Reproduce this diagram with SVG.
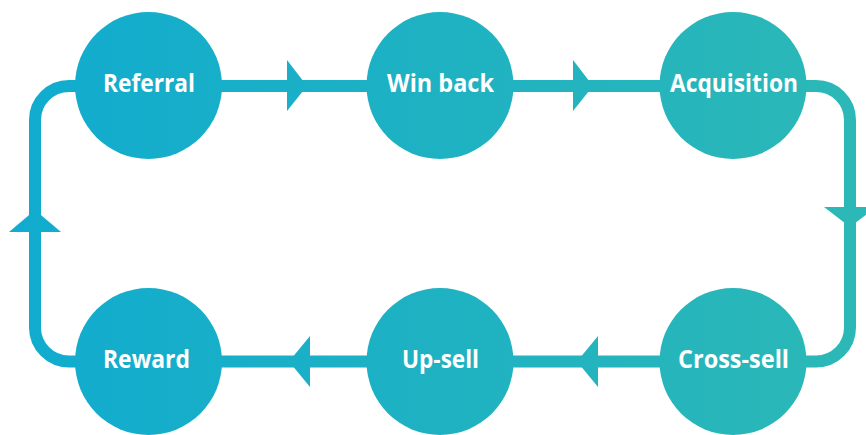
<svg xmlns="http://www.w3.org/2000/svg" width="866" height="435" viewBox="0 0 866 435">
  <defs>
    <linearGradient id="g" gradientUnits="userSpaceOnUse" x1="0" y1="0" x2="866" y2="0">
      <stop offset="0" stop-color="#10ABCF"/>
      <stop offset="1" stop-color="#2CB8B6"/>
    </linearGradient>
  </defs>
  <style>
    .line { fill: none; stroke: url(#g); stroke-width: 12; }
    .head { fill: url(#g); }
    .node { fill: url(#g); }
    .label { fill: #ffffff; font-family: "Open Sans", "Noto Sans", sans-serif; font-weight: bold; font-size: 25px; text-anchor: middle; }
  </style>
  <rect width="866" height="435" fill="#ffffff"/>
  <g id="connectors">
    <path class="line" d="M148.5 86 H733"/>
    <path class="line" d="M733 86 H816 A34 34 0 0 1 850 120 V327.5 A34 34 0 0 1 816 361.5 H733"/>
    <path class="line" d="M733 361.5 H148.5"/>
    <path class="line" d="M148.5 361.5 H69 A34 34 0 0 1 35 327.5 V120 A34 34 0 0 1 69 86 H148.5"/>
    <polygon class="head" points="287,60 307,86 287,111"/>
    <polygon class="head" points="573,60 593,86 573,111"/>
    <polygon class="head" points="824,207 876,207 850,227"/>
    <polygon class="head" points="598,336 577,361.5 598,387"/>
    <polygon class="head" points="310,336 289,361.5 310,387"/>
    <polygon class="head" points="9,232 61,232 35,210"/>
  </g>
  <g id="referral">
    <circle class="node" cx="148.5" cy="85.5" r="73.5"/>
    <text class="label" x="149" y="92" textLength="92" lengthAdjust="spacingAndGlyphs">Referral</text>
  </g>
  <g id="win-back">
    <circle class="node" cx="440" cy="85.5" r="73.5"/>
    <text class="label" x="440.5" y="92" textLength="107" lengthAdjust="spacingAndGlyphs">Win back</text>
  </g>
  <g id="acquisition">
    <circle class="node" cx="733" cy="85.5" r="73.5"/>
    <text class="label" x="734" y="92" textLength="128" lengthAdjust="spacingAndGlyphs">Acquisition</text>
  </g>
  <g id="cross-sell">
    <circle class="node" cx="733" cy="361.5" r="73.5"/>
    <text class="label" x="733.5" y="368" textLength="111" lengthAdjust="spacingAndGlyphs">Cross-sell</text>
  </g>
  <g id="up-sell">
    <circle class="node" cx="440" cy="361.5" r="73.5"/>
    <text class="label" x="440.5" y="368" textLength="77" lengthAdjust="spacingAndGlyphs">Up-sell</text>
  </g>
  <g id="reward">
    <circle class="node" cx="148.5" cy="361.5" r="73.5"/>
    <text class="label" x="146.5" y="368" textLength="87" lengthAdjust="spacingAndGlyphs">Reward</text>
  </g>
</svg>
